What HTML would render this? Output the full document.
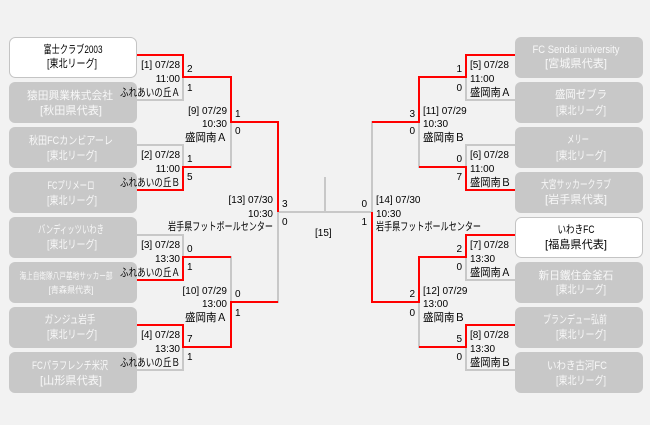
<!DOCTYPE html>
<html><head><meta charset="utf-8"><style>
html,body{margin:0;padding:0;background:#f2f2f2;}
svg{display:block;}
.l{font-family:"Liberation Sans","Noto Sans CJK JP",sans-serif;font-size:10px;fill:#000;}
.j{font-family:"Liberation Sans","Noto Sans CJK JP",sans-serif;font-size:11px;fill:#000;}
.b{font-family:"Liberation Sans","Noto Sans CJK JP",sans-serif;font-size:11px;text-anchor:middle;}
.w{fill:#f8f8f8;}
.k{fill:#000;}
</style></head><body>
<svg width="650" height="425" viewBox="0 0 650 425" xmlns="http://www.w3.org/2000/svg">
<rect x="0" y="0" width="650" height="425" fill="#f2f2f2"/>
<!-- boxes left -->
<g stroke-width="1">
<rect x="9.5" y="37.5" width="127" height="40" rx="6" fill="#ffffff" stroke="#c4c4c4"/>
<rect x="9" y="82" width="128" height="41" rx="6" fill="#c8c8c8"/>
<rect x="9" y="127" width="128" height="41" rx="6" fill="#c8c8c8"/>
<rect x="9" y="172" width="128" height="41" rx="6" fill="#c8c8c8"/>
<rect x="9" y="217" width="128" height="41" rx="6" fill="#c8c8c8"/>
<rect x="9" y="262" width="128" height="41" rx="6" fill="#c8c8c8"/>
<rect x="9" y="307" width="128" height="41" rx="6" fill="#c8c8c8"/>
<rect x="9" y="352" width="128" height="41" rx="6" fill="#c8c8c8"/>
<!-- right -->
<rect x="515" y="37" width="128" height="41" rx="6" fill="#c8c8c8"/>
<rect x="515" y="82" width="128" height="41" rx="6" fill="#c8c8c8"/>
<rect x="515" y="127" width="128" height="41" rx="6" fill="#c8c8c8"/>
<rect x="515" y="172" width="128" height="41" rx="6" fill="#c8c8c8"/>
<rect x="515.5" y="217.5" width="127" height="40" rx="6" fill="#ffffff" stroke="#c4c4c4"/>
<rect x="515" y="262" width="128" height="41" rx="6" fill="#c8c8c8"/>
<rect x="515" y="307" width="128" height="41" rx="6" fill="#c8c8c8"/>
<rect x="515" y="352" width="128" height="41" rx="6" fill="#c8c8c8"/>
</g>
<!-- box texts left -->
<text class="b k" x="73" y="53" textLength="59" lengthAdjust="spacingAndGlyphs">富士クラブ2003</text>
<text class="b k" x="72" y="67" textLength="50" lengthAdjust="spacingAndGlyphs">[東北リーグ]</text>
<text class="b w" x="70" y="99" textLength="86" lengthAdjust="spacingAndGlyphs">猿田興業株式会社</text>
<text class="b w" x="71" y="114" textLength="62" lengthAdjust="spacingAndGlyphs">[秋田県代表]</text>
<text class="b w" x="71" y="144" textLength="84" lengthAdjust="spacingAndGlyphs">秋田FCカンビアーレ</text>
<text class="b w" x="72" y="159" textLength="50" lengthAdjust="spacingAndGlyphs">[東北リーグ]</text>
<text class="b w" x="71" y="189" textLength="47" lengthAdjust="spacingAndGlyphs">FCプリメーロ</text>
<text class="b w" x="72" y="204" textLength="50" lengthAdjust="spacingAndGlyphs">[東北リーグ]</text>
<text class="b w" x="71" y="233" textLength="66" lengthAdjust="spacingAndGlyphs">バンディッツいわき</text>
<text class="b w" x="72" y="248" textLength="50" lengthAdjust="spacingAndGlyphs">[東北リーグ]</text>
<text class="b w" x="66" y="279" style="font-size:9px" textLength="93" lengthAdjust="spacingAndGlyphs">海上自衛隊八戸基地サッカー部</text>
<text class="b w" x="71" y="293" style="font-size:9px" textLength="45" lengthAdjust="spacingAndGlyphs">[青森県代表]</text>
<text class="b w" x="70" y="323" textLength="51" lengthAdjust="spacingAndGlyphs">ガンジュ岩手</text>
<text class="b w" x="72" y="338" textLength="50" lengthAdjust="spacingAndGlyphs">[東北リーグ]</text>
<text class="b w" x="70" y="369" textLength="76" lengthAdjust="spacingAndGlyphs">FCパラフレンチ米沢</text>
<text class="b w" x="71" y="384" textLength="62" lengthAdjust="spacingAndGlyphs">[山形県代表]</text>
<!-- box texts right -->
<text class="b w" x="576" y="53" textLength="87" lengthAdjust="spacingAndGlyphs">FC Sendai university</text>
<text class="b w" x="576" y="67" textLength="62" lengthAdjust="spacingAndGlyphs">[宮城県代表]</text>
<text class="b w" x="581" y="98" textLength="52" lengthAdjust="spacingAndGlyphs">盛岡ゼブラ</text>
<text class="b w" x="581" y="114" textLength="50" lengthAdjust="spacingAndGlyphs">[東北リーグ]</text>
<text class="b w" x="578" y="143" textLength="22" lengthAdjust="spacingAndGlyphs">メリー</text>
<text class="b w" x="581" y="159" textLength="50" lengthAdjust="spacingAndGlyphs">[東北リーグ]</text>
<text class="b w" x="576" y="188" textLength="70" lengthAdjust="spacingAndGlyphs">大宮サッカークラブ</text>
<text class="b w" x="576" y="203" textLength="62" lengthAdjust="spacingAndGlyphs">[岩手県代表]</text>
<text class="b k" x="576" y="233" textLength="37" lengthAdjust="spacingAndGlyphs">いわきFC</text>
<text class="b k" x="576" y="248" textLength="62" lengthAdjust="spacingAndGlyphs">[福島県代表]</text>
<text class="b w" x="576" y="279" textLength="75" lengthAdjust="spacingAndGlyphs">新日鐵住金釜石</text>
<text class="b w" x="581" y="293" textLength="50" lengthAdjust="spacingAndGlyphs">[東北リーグ]</text>
<text class="b w" x="575" y="323" textLength="64" lengthAdjust="spacingAndGlyphs">ブランデュー弘前</text>
<text class="b w" x="581" y="338" textLength="50" lengthAdjust="spacingAndGlyphs">[東北リーグ]</text>
<text class="b w" x="577" y="369" textLength="60" lengthAdjust="spacingAndGlyphs">いわき古河FC</text>
<text class="b w" x="581" y="384" textLength="50" lengthAdjust="spacingAndGlyphs">[東北リーグ]</text>

<!-- gray lines -->
<g fill="none" stroke="#c8c8c8" stroke-width="2" stroke-linecap="square">
<path d="M137,100 H183 V77"/>
<path d="M137,145 H183 V167"/>
<path d="M231,167 V122"/>
<path d="M137,235 H183 V257"/>
<path d="M231,257 V302"/>
<path d="M137,370 H183 V347"/>
<path d="M278,302 V212"/>
<path d="M278,212 H372"/>
<path d="M325,178 V212"/>
<path d="M515,100 H466 V77"/>
<path d="M515,145 H466 V167"/>
<path d="M419,167 V122"/>
<path d="M515,280 H466 V257"/>
<path d="M515,370 H466 V347"/>
<path d="M419,347 V302"/>
<path d="M372,122 V212"/>
</g>
<!-- red lines -->
<g fill="none" stroke="#ff0000" stroke-width="2" stroke-linejoin="miter">
<path d="M137,55 H183 V77 H231 V122 H278 V212"/>
<path d="M137,190 H183 V167 H231"/>
<path d="M137,280 H183 V257 H231"/>
<path d="M137,325 H183 V347 H231 V302 H278"/>
<path d="M515,55 H466 V77 H419 V122 H372"/>
<path d="M515,190 H466 V167 H419"/>
<path d="M515,235 H466 V257 H419 V302 H372 V212"/>
<path d="M515,325 H466 V347 H419"/>
</g>

<!-- left labels R1 -->
<g class="l" text-anchor="end">
<text x="180" y="68">[1] 07/28</text><text x="180" y="82">11:00</text>
<text x="180" y="158">[2] 07/28</text><text x="180" y="172">11:00</text>
<text x="180" y="248">[3] 07/28</text><text x="180" y="262">13:30</text>
<text x="180" y="338">[4] 07/28</text><text x="180" y="352">13:30</text>
<text x="227" y="114">[9] 07/29</text><text x="227" y="127">10:30</text>
<text x="227" y="294">[10] 07/29</text><text x="227" y="307">13:00</text>
<text x="273" y="203">[13] 07/30</text><text x="273" y="217">10:30</text>
</g>
<g class="j" text-anchor="end">
<text x="180" y="96" textLength="60" lengthAdjust="spacingAndGlyphs">ふれあいの丘Ａ</text>
<text x="180" y="186" textLength="60" lengthAdjust="spacingAndGlyphs">ふれあいの丘Ｂ</text>
<text x="180" y="276" textLength="60" lengthAdjust="spacingAndGlyphs">ふれあいの丘Ａ</text>
<text x="180" y="366" textLength="60" lengthAdjust="spacingAndGlyphs">ふれあいの丘Ｂ</text>
<text x="227" y="141" textLength="42" lengthAdjust="spacingAndGlyphs">盛岡南Ａ</text>
<text x="227" y="321" textLength="42" lengthAdjust="spacingAndGlyphs">盛岡南Ａ</text>
<text x="273" y="230" textLength="105" lengthAdjust="spacingAndGlyphs">岩手県フットボールセンター</text>
</g>
<!-- left scores -->
<g class="l">
<text x="187" y="72">2</text><text x="187" y="91">1</text>
<text x="187" y="162">1</text><text x="187" y="180">5</text>
<text x="187" y="252">0</text><text x="187" y="270">1</text>
<text x="187" y="342">7</text><text x="187" y="360">1</text>
<text x="235" y="117">1</text><text x="235" y="134">0</text>
<text x="235" y="297">0</text><text x="235" y="316">1</text>
<text x="282" y="207">3</text><text x="282" y="225">0</text>
</g>

<!-- right labels -->
<g class="l">
<text x="470" y="68">[5] 07/28</text><text x="470" y="82">11:00</text>
<text x="470" y="158">[6] 07/28</text><text x="470" y="172">11:00</text>
<text x="470" y="248">[7] 07/28</text><text x="470" y="262">13:30</text>
<text x="470" y="338">[8] 07/28</text><text x="470" y="352">13:30</text>
<text x="423" y="114">[11] 07/29</text><text x="423" y="127">10:30</text>
<text x="423" y="294">[12] 07/29</text><text x="423" y="307">13:00</text>
<text x="376" y="203">[14] 07/30</text><text x="376" y="217">10:30</text>
<text x="315" y="236">[15]</text>
</g>
<g class="j">
<text x="470" y="96" textLength="41" lengthAdjust="spacingAndGlyphs">盛岡南Ａ</text>
<text x="470" y="186" textLength="41" lengthAdjust="spacingAndGlyphs">盛岡南Ｂ</text>
<text x="470" y="276" textLength="41" lengthAdjust="spacingAndGlyphs">盛岡南Ａ</text>
<text x="470" y="366" textLength="41" lengthAdjust="spacingAndGlyphs">盛岡南Ｂ</text>
<text x="423" y="141" textLength="42" lengthAdjust="spacingAndGlyphs">盛岡南Ｂ</text>
<text x="423" y="321" textLength="42" lengthAdjust="spacingAndGlyphs">盛岡南Ｂ</text>
<text x="376" y="230" textLength="105" lengthAdjust="spacingAndGlyphs">岩手県フットボールセンター</text>
</g>
<g class="l" text-anchor="end">
<text x="462" y="72">1</text><text x="462" y="91">0</text>
<text x="462" y="162">0</text><text x="462" y="180">7</text>
<text x="462" y="252">2</text><text x="462" y="270">0</text>
<text x="462" y="342">5</text><text x="462" y="360">0</text>
<text x="415" y="117">3</text><text x="415" y="134">0</text>
<text x="415" y="297">2</text><text x="415" y="316">0</text>
<text x="367" y="207">0</text><text x="367" y="225">1</text>
</g>
</svg>
</body></html>
